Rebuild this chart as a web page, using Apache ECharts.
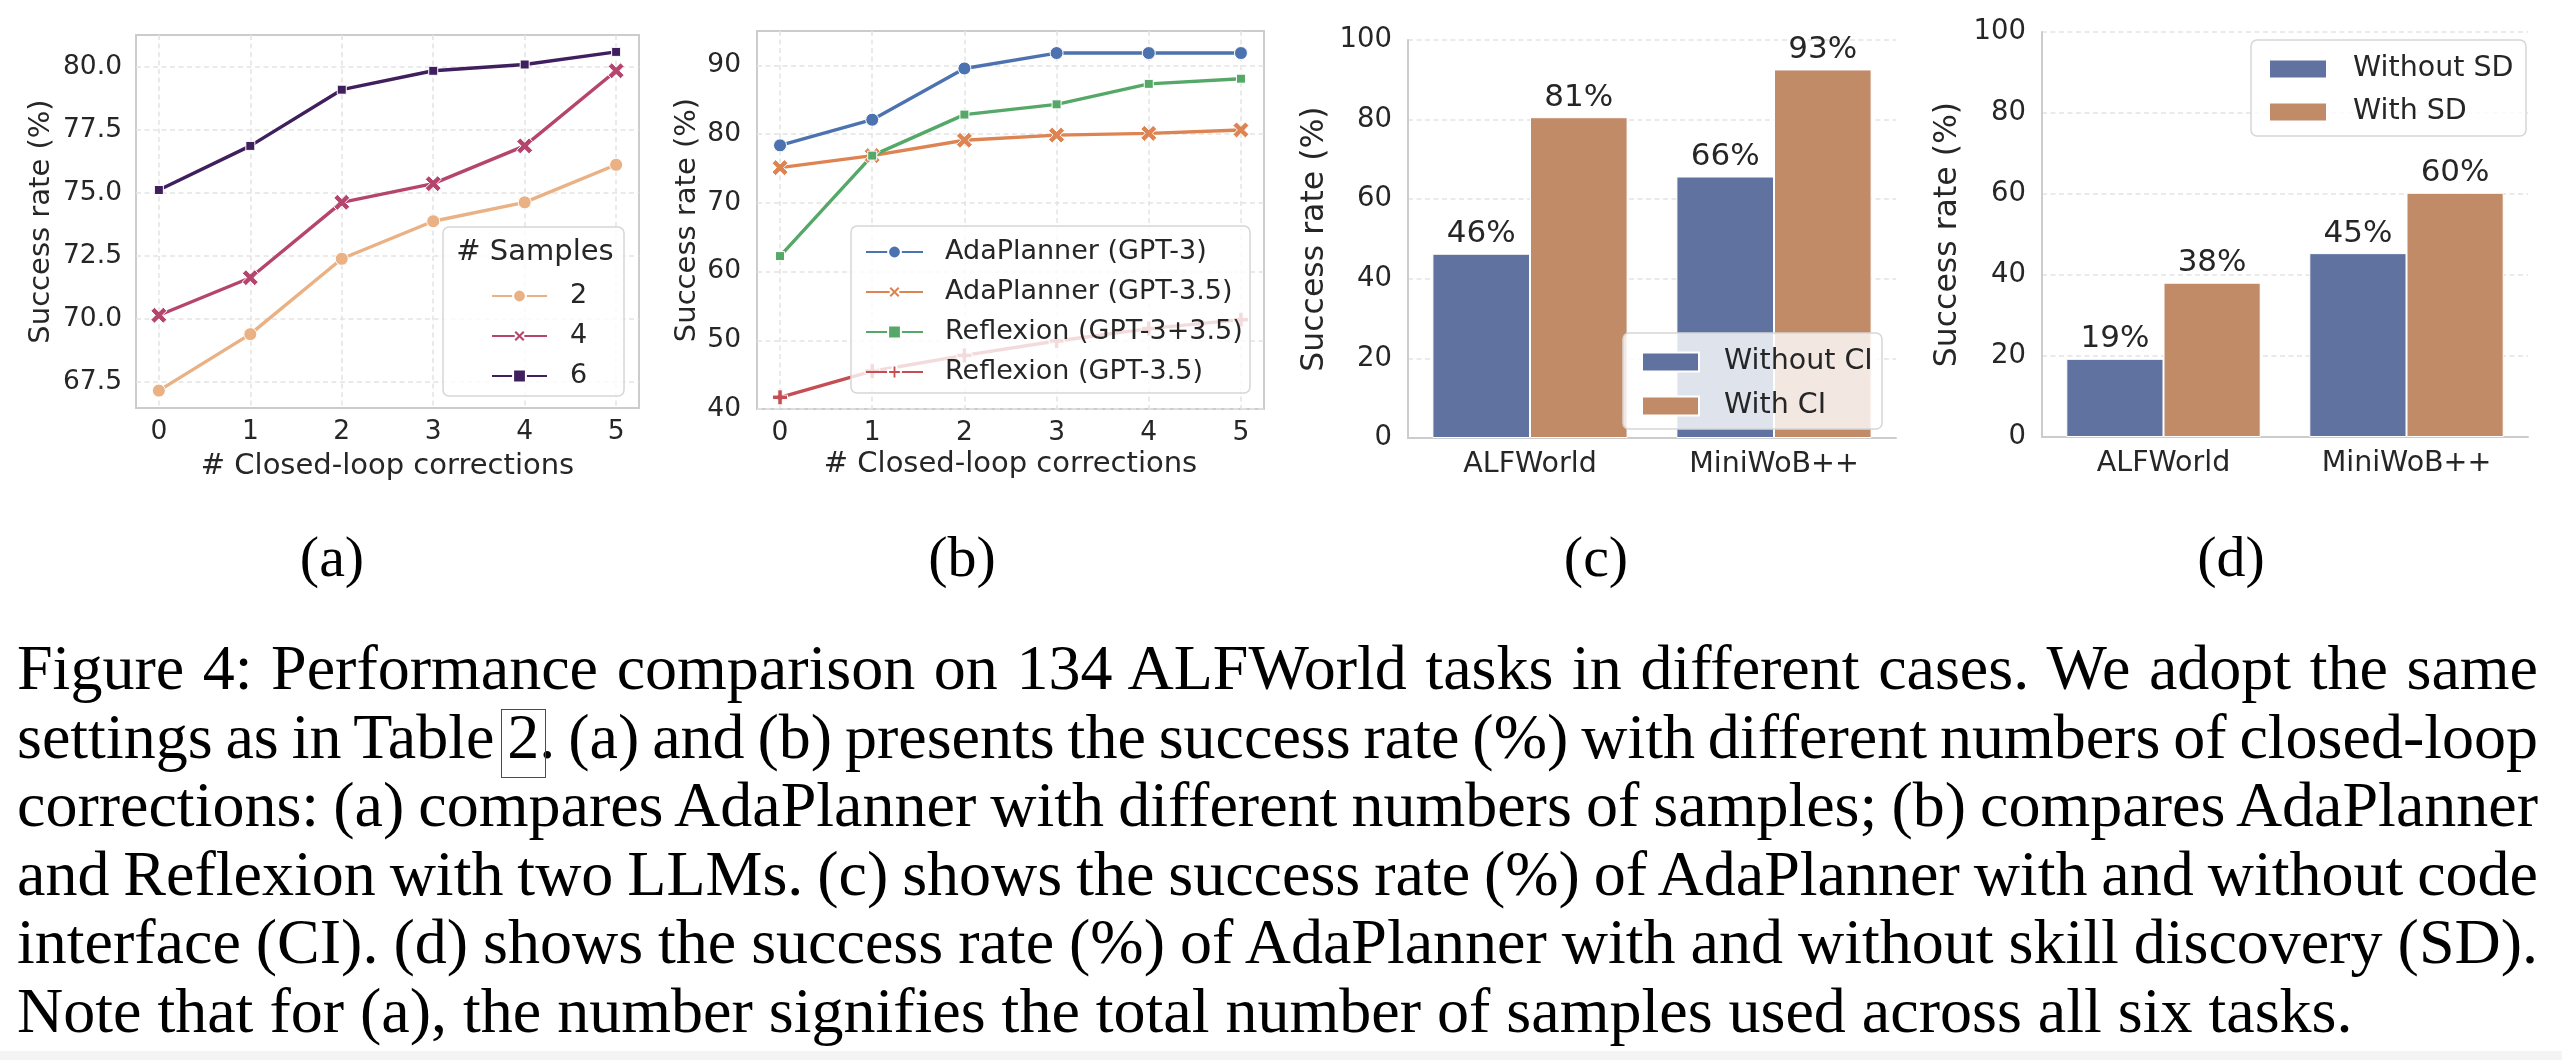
<!DOCTYPE html>
<html>
<head>
<meta charset="utf-8">
<script src="https://cdn.jsdelivr.net/npm/echarts@6/dist/echarts.min.js"></script>
<style>
  html, body { margin: 0; padding: 0; background: #fff; }
  #chart { position: absolute; left: 0; top: 0; width: 2562px; height: 1060px; }
  .sub { position: absolute; top: 528px; font-family: "Liberation Serif", serif; font-size: 58px;
         line-height: 58px; color: #000; transform: translateX(-50%); white-space: nowrap; }
  .cap { position: absolute; left: 17px; top: 634px; width: 2521px; font-family: "Liberation Serif", serif;
         font-size: 64px; line-height: 68.5px; color: #000; }
  .cap div { white-space: nowrap; }
  .ref { position: relative; }
  .ref::after { content: ""; position: absolute; left: -6px; right: -7px; top: 8px; bottom: -6px;
                border: 1.5px solid #f00; }
  #strip { position: absolute; left: 0; top: 1051px; width: 2562px; height: 9px; background: #f4f4f4; }
</style>
</head>
<body>
<div id="chart"></div>
<div class="sub" style="left:332px">(a)</div>
<div class="sub" style="left:962px">(b)</div>
<div class="sub" style="left:1596px">(c)</div>
<div class="sub" style="left:2231px">(d)</div>
<div class="cap" id="cap">
  <div>Figure 4: Performance comparison on 134 ALFWorld tasks in different cases. We adopt the same</div>
  <div>settings as in Table <span class="ref">2</span>. (a) and (b) presents the success rate (%) with different numbers of closed-loop</div>
  <div>corrections: (a) compares AdaPlanner with different numbers of samples; (b) compares AdaPlanner</div>
  <div>and Reflexion with two LLMs. (c) shows the success rate (%) of AdaPlanner with and without code</div>
  <div>interface (CI). (d) shows the success rate (%) of AdaPlanner with and without skill discovery (SD).</div>
  <div class="last">Note that for (a), the number signifies the total number of samples used across all six tasks.</div>
</div>
<div id="strip"></div>
<script>
// x axis of (a) and (b)
const steps = [0, 1, 2, 3, 4, 5];

// (a) AdaPlanner with different numbers of samples
const samples2 = [67.16, 69.40, 72.39, 73.88, 74.63, 76.12];
const samples4 = [70.15, 71.64, 74.63, 75.37, 76.87, 79.85];
const samples6 = [75.12, 76.87, 79.10, 79.85, 80.10, 80.60];

// (b) AdaPlanner vs Reflexion
const adaGpt3 = [78.36, 82.09, 89.55, 91.79, 91.79, 91.79];
const adaGpt35 = [75.12, 76.87, 79.10, 79.85, 80.10, 80.60];
const refGpt3_35 = [62.25, 76.87, 82.84, 84.33, 87.31, 88.06];
const refGpt35 = [41.7, 45.5, 47.8, 49.9, 51.7, 53.0];

// (c) and (d) bars
const tasks = ['ALFWorld', 'MiniWoB++'];
const withoutCI = [46.3, 65.7];
const withCI = [80.6, 92.6];
const withoutSD = [19.3, 45.4];
const withSD = [38.1, 60.3];

// tick labels
const ticksA = [67.5, 70, 72.5, 75, 77.5, 80];
const ticksB = [40, 50, 60, 70, 80, 90];

const FONT = 'DejaVu Sans';
const INK = '#262626';
const GRID_LINE = { show: true, lineStyle: { color: '#e3e3e3', width: 1.5, type: [5, 3.5] } };
const X_MARK = 'path://M-0.55,-1 L0,-0.45 L0.55,-1 L1,-0.55 L0.45,0 L1,0.55 L0.55,1 L0,0.45 L-0.55,1 L-1,0.55 L-0.45,0 L-1,-0.55 Z';
const PLUS_MARK = 'path://M-0.3,-1 L0.3,-1 L0.3,-0.3 L1,-0.3 L1,0.3 L0.3,0.3 L0.3,1 L-0.3,1 L-0.3,0.3 L-1,0.3 L-1,-0.3 L-0.3,-0.3 Z';

function pts(arr) {
  return steps.map((x, i) => [x, arr[i]]);
}

function lineSeries(name, arr, color, symbol, size, idx) {
  return {
    name: name, type: 'line', xAxisIndex: idx, yAxisIndex: idx, z: 2,
    data: pts(arr), symbol: symbol, symbolSize: size,
    lineStyle: { color: color, width: 3.4 },
    itemStyle: { color: color, borderColor: '#fff', borderWidth: 1 },
    emphasis: { disabled: true }
  };
}

function barSeries(name, arr, color, idx) {
  return {
    name: name, type: 'bar', xAxisIndex: idx, yAxisIndex: idx, z: 2,
    data: arr, barGap: '0%', barCategoryGap: '20%',
    itemStyle: { color: color, borderColor: '#fff', borderWidth: 1 },
    label: {
      show: true, position: 'top', distance: 4,
      formatter: p => Math.round(p.value) + '%',
      fontFamily: FONT, fontSize: 31, color: INK
    },
    emphasis: { disabled: true }
  };
}

function stepAxis(idx) {
  return {
    type: 'value', gridIndex: idx, min: -0.25, max: 5.25,
    name: '# Closed-loop corrections', nameLocation: 'middle', nameGap: idx === 0 ? 44 : 41,
    nameTextStyle: { fontFamily: FONT, fontSize: 29, color: INK },
    axisLine: { show: false },
    axisTick: { show: false, customValues: steps },
    axisLabel: { customValues: steps, fontFamily: FONT, fontSize: 26.5, color: INK, margin: 11 },
    splitLine: GRID_LINE
  };
}

function taskAxis(idx) {
  return {
    type: 'category', gridIndex: idx, data: tasks,
    axisLine: { show: true, lineStyle: { color: '#cccccc', width: 2 } },
    axisTick: { show: false },
    axisLabel: { fontFamily: FONT, fontSize: 28.5, color: INK, margin: 12 },
    splitLine: { show: false }
  };
}

function rateAxis(idx, gap) {
  return {
    type: 'value', gridIndex: idx, min: 0, max: 100, interval: 20,
    name: 'Success rate (%)', nameLocation: 'middle', nameGap: gap,
    nameTextStyle: { fontFamily: FONT, fontSize: 31.5, color: INK },
    axisLine: { show: true, lineStyle: { color: '#cccccc', width: 2 } },
    axisTick: { show: false },
    axisLabel: { fontFamily: FONT, fontSize: 27.5, color: INK, margin: 16 },
    splitLine: GRID_LINE
  };
}

// semi-transparent legend frame, drawn over the plotted marks like matplotlib does
function legendBox(x, y, w, h) {
  return {
    type: 'rect', z: 8, silent: true,
    shape: { x: x, y: y, width: w, height: h, r: 6 },
    style: { fill: 'rgba(255,255,255,0.8)', stroke: '#d6d6d6', lineWidth: 1.5 }
  };
}

const chart = echarts.init(document.getElementById('chart'), null, { renderer: 'canvas' });

const option = {
  animation: false,
  backgroundColor: '#fff',
  grid: [
    { left: 136, top: 35, width: 503, height: 373, show: true, borderColor: '#cccccc', borderWidth: 2, backgroundColor: 'transparent' },
    { left: 757, top: 31, width: 507, height: 378, show: true, borderColor: '#cccccc', borderWidth: 2, backgroundColor: 'transparent' },
    { left: 1408, top: 40, width: 488, height: 398 },
    { left: 2042, top: 32, width: 486, height: 405 }
  ],
  xAxis: [stepAxis(0), stepAxis(1), taskAxis(2), taskAxis(3)],
  yAxis: [
    {
      type: 'value', gridIndex: 0, min: 66.47, max: 81.27,
      name: 'Success rate (%)', nameLocation: 'middle', nameGap: 80,
      nameTextStyle: { fontFamily: FONT, fontSize: 29, color: INK },
      axisLine: { show: false },
      axisTick: { show: false, customValues: ticksA },
      axisLabel: { customValues: ticksA, formatter: v => v.toFixed(1), fontFamily: FONT, fontSize: 26.5, color: INK, margin: 14 },
      splitLine: GRID_LINE
    },
    {
      type: 'value', gridIndex: 1, min: 40, max: 95,
      name: 'Success rate (%)', nameLocation: 'middle', nameGap: 55,
      nameTextStyle: { fontFamily: FONT, fontSize: 29, color: INK },
      axisLine: { show: false },
      axisTick: { show: false, customValues: ticksB },
      axisLabel: { customValues: ticksB, fontFamily: FONT, fontSize: 26.5, color: INK, margin: 16 },
      splitLine: GRID_LINE
    },
    rateAxis(2, 77),
    rateAxis(3, 78)
  ],
  legend: [
    {
      data: ['2', '4', '6'], orient: 'vertical', left: 486, top: 276, z: 10,
      itemWidth: 55, itemHeight: 16, itemGap: 10, selectedMode: false,
      textStyle: { fontFamily: FONT, fontSize: 27, color: INK, lineHeight: 30, padding: [0, 0, 0, 18] }
    },
    {
      data: ['AdaPlanner (GPT-3)', 'AdaPlanner (GPT-3.5)', 'Reflexion (GPT-3+3.5)', 'Reflexion (GPT-3.5)'],
      orient: 'vertical', left: 860, top: 232, z: 10,
      itemWidth: 57, itemHeight: 16, itemGap: 10, selectedMode: false,
      textStyle: { fontFamily: FONT, fontSize: 27, color: INK, lineHeight: 30, padding: [0, 0, 0, 17] }
    },
    {
      data: ['Without CI', 'With CI'], orient: 'vertical', left: 1636, top: 341, z: 10,
      icon: 'rect', itemWidth: 57, itemHeight: 19, itemGap: 12, selectedMode: false,
      textStyle: { fontFamily: FONT, fontSize: 28.5, color: INK, lineHeight: 32, padding: [0, 0, 0, 20] }
    },
    {
      data: ['Without SD', 'With SD'], orient: 'vertical', left: 2263, top: 48, z: 10,
      icon: 'rect', itemWidth: 58, itemHeight: 19, itemGap: 11, selectedMode: false,
      textStyle: { fontFamily: FONT, fontSize: 28.5, color: INK, lineHeight: 32, padding: [0, 0, 0, 21] }
    }
  ],
  graphic: [
    legendBox(443, 227, 181, 169),
    legendBox(851, 226, 399, 167),
    legendBox(1623, 333, 259, 96),
    legendBox(2251, 40, 275, 96),
    {
      type: 'text', z: 10, silent: true, x: 535, y: 252,
      style: { text: '# Samples', fontFamily: FONT, fontSize: 29, fill: INK, align: 'center', verticalAlign: 'middle' }
    }
  ],
  series: [
    lineSeries('2', samples2, '#e9b184', 'circle', 13, 0),
    lineSeries('4', samples4, '#b5456c', X_MARK, 16, 0),
    lineSeries('6', samples6, '#3f1f5d', 'rect', 9, 0),
    lineSeries('AdaPlanner (GPT-3)', adaGpt3, '#4c72b0', 'circle', 13, 1),
    lineSeries('AdaPlanner (GPT-3.5)', adaGpt35, '#dd8452', X_MARK, 16, 1),
    lineSeries('Reflexion (GPT-3+3.5)', refGpt3_35, '#55a868', 'rect', 9, 1),
    lineSeries('Reflexion (GPT-3.5)', refGpt35, '#c44e52', PLUS_MARK, 15, 1),
    barSeries('Without CI', withoutCI, '#6073a0', 2),
    barSeries('With CI', withCI, '#c18b68', 2),
    barSeries('Without SD', withoutSD, '#6073a0', 3),
    barSeries('With SD', withSD, '#c18b68', 3)
  ]
};

chart.setOption(option);

// stretch each caption line to the full text width, like the justified LaTeX caption
const capWidth = 2521;
document.querySelectorAll('#cap div').forEach(function (line) {
  if (line.classList.contains('last')) return;
  const probe = document.createElement('span');
  probe.innerHTML = line.innerHTML;
  probe.style.whiteSpace = 'nowrap';
  line.innerHTML = '';
  line.appendChild(probe);
  const natural = probe.getBoundingClientRect().width;
  const spaces = (probe.textContent.match(/ /g) || []).length;
  line.style.wordSpacing = ((capWidth - natural) / spaces) + 'px';
});
</script>
</body>
</html>
